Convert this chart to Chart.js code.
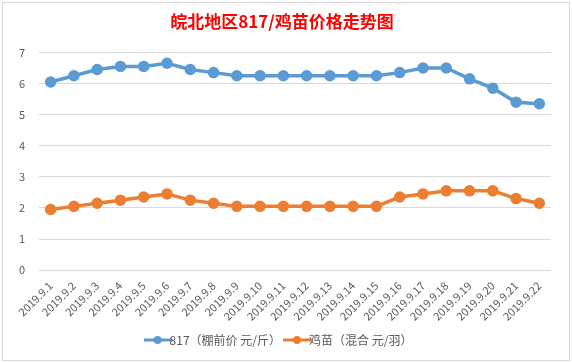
<!DOCTYPE html>
<html>
<head>
<meta charset="utf-8">
<script src="https://cdn.jsdelivr.net/npm/chart.js@4"></script>
<style>
  html, body { margin: 0; padding: 0; background: #fff; }
  #wrap { position: absolute; left: 2px; top: 2px; width: 566px; height: 357px; border: 1px solid #d9d9d9; background: #fff; }
</style>
</head>
<body>
<div id="wrap"><canvas id="priceChart"></canvas></div>
<script>
var dates = ['2019.9.1', '2019.9.2', '2019.9.3', '2019.9.4', '2019.9.5', '2019.9.6', '2019.9.7', '2019.9.8',
  '2019.9.9', '2019.9.10', '2019.9.11', '2019.9.12', '2019.9.13', '2019.9.14', '2019.9.15', '2019.9.16',
  '2019.9.17', '2019.9.18', '2019.9.19', '2019.9.20', '2019.9.21', '2019.9.22'];
var price817 = [6.05, 6.25, 6.45, 6.55, 6.55, 6.65, 6.45, 6.35, 6.25, 6.25, 6.25, 6.25, 6.25, 6.25, 6.25, 6.35, 6.5, 6.5, 6.15, 5.85, 5.4, 5.35];
var priceChick = [1.95, 2.05, 2.15, 2.25, 2.35, 2.45, 2.25, 2.15, 2.05, 2.05, 2.05, 2.05, 2.05, 2.05, 2.05, 2.35, 2.45, 2.55, 2.55, 2.55, 2.3, 2.15];
var yTicks = [0, 1, 2, 3, 4, 5, 6, 7];

var FONT = '"Noto Sans CJK SC", "Noto Sans", sans-serif';

// legend marker: line with a dot in the middle, like Excel
function legendMarker(color) {
  var c = document.createElement('canvas');
  c.width = 28; c.height = 10;
  var g = c.getContext('2d');
  g.strokeStyle = color;
  g.lineWidth = 3;
  g.beginPath(); g.moveTo(0, 5); g.lineTo(28, 5); g.stroke();
  g.fillStyle = color;
  g.beginPath(); g.arc(14, 5, 4, 0, Math.PI * 2); g.fill();
  return c;
}

var blue = '#5b9bd5';
var orange = '#ed7d31';

new Chart(document.getElementById('priceChart'), {
  type: 'line',
  data: {
    labels: dates,
    datasets: [{
      label: '817（棚前价 元/斤）',
      data: price817,
      borderColor: blue,
      backgroundColor: blue,
      borderWidth: 3.5,
      pointRadius: 4,
      pointHoverRadius: 4,
      tension: 0
    }, {
      label: '鸡苗（混合 元/羽）',
      data: priceChick,
      borderColor: orange,
      backgroundColor: orange,
      borderWidth: 3.5,
      pointRadius: 4,
      pointHoverRadius: 4,
      tension: 0
    }]
  },
  options: {
    responsive: true,
    maintainAspectRatio: false,
    animation: false,
    layout: { padding: { left: 10, right: 18, top: 0, bottom: 4 } },
    scales: {
      x: {
        offset: true,
        grid: { display: false },
        border: { display: false },
        ticks: {
          color: '#595959',
          font: { family: FONT, size: 11 },
          maxRotation: 45,
          minRotation: 45,
          autoSkip: false,
          padding: 1
        }
      },
      y: {
        min: 0,
        max: 7,
        afterBuildTicks: function (axis) {
          axis.ticks = yTicks.map(function (v) { return { value: v }; });
        },
        afterFit: function (axis) { axis.width = 26; },
        grid: { color: '#d9d9d9', drawTicks: false, lineWidth: 1 },
        border: { display: false },
        ticks: {
          color: '#595959',
          font: { family: FONT, size: 11 },
          padding: 14
        }
      }
    },
    plugins: {
      title: {
        display: true,
        text: '皖北地区817/鸡苗价格走势图',
        color: '#ff0000',
        font: { family: FONT, size: 17, weight: 'bold' },
        padding: { top: 8, bottom: 21 }
      },
      legend: {
        position: 'bottom',
        labels: {
          usePointStyle: true,
          color: '#595959',
          font: { family: FONT, size: 12 },
          padding: 10,
          generateLabels: function (chart) {
            return chart.data.datasets.map(function (ds, i) {
              return {
                text: ds.label,
                fillStyle: ds.borderColor,
                strokeStyle: ds.borderColor,
                pointStyle: legendMarker(ds.borderColor),
                fontColor: '#595959',
                lineWidth: 0,
                datasetIndex: i
              };
            });
          }
        }
      },
      tooltip: { enabled: false }
    }
  }
});
</script>
</body>
</html>
